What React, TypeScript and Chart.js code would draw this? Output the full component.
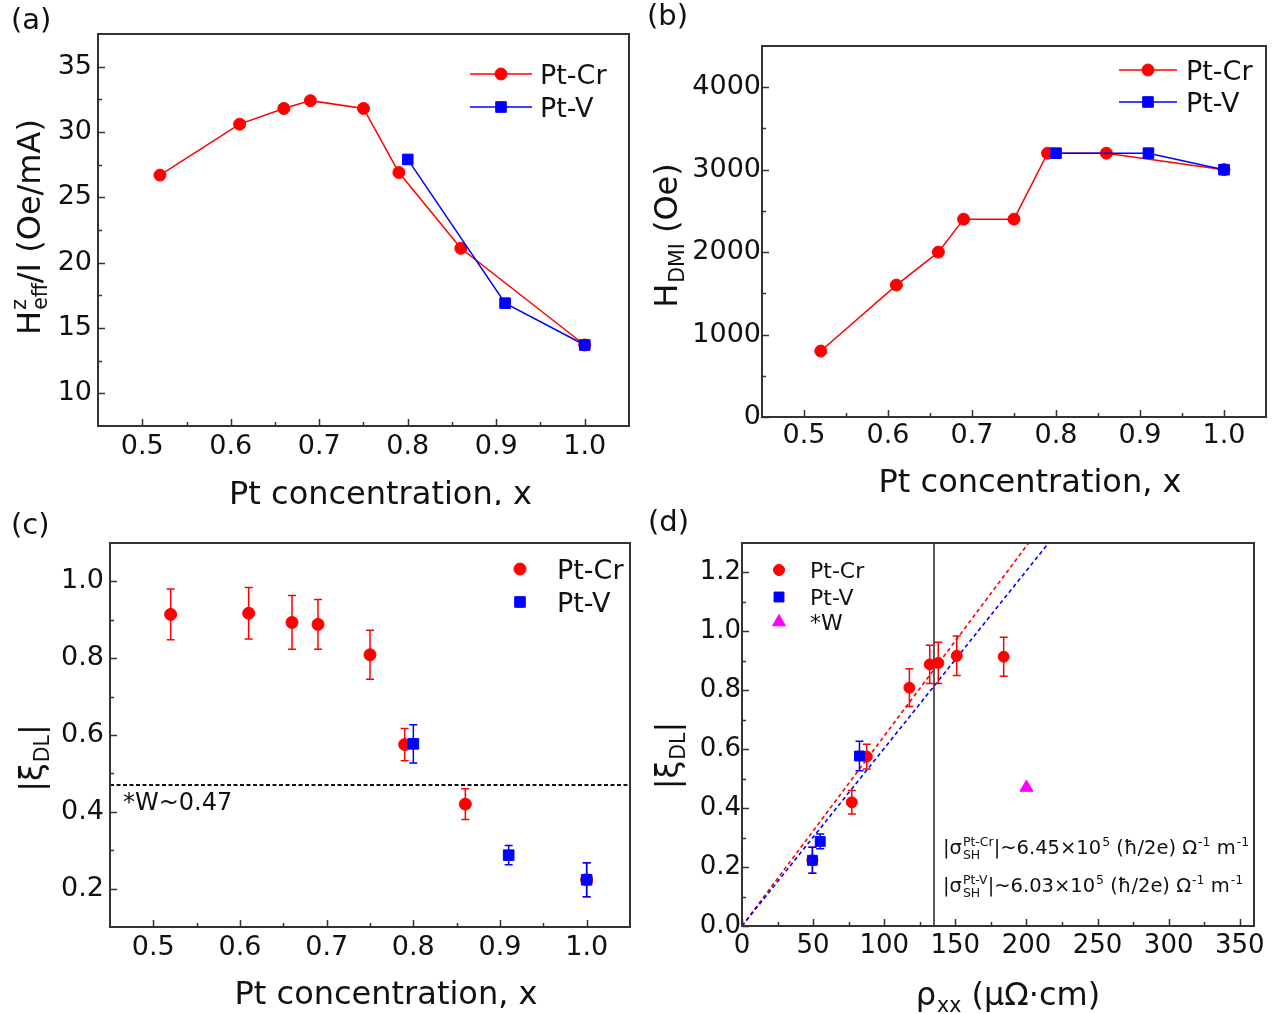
import React, { useEffect, useRef } from "react";
import { Chart, registerables } from "chart.js";
Chart.register(...registerables);

const FONT = '"DejaVu Sans", "Liberation Sans", sans-serif';
const TEXT = "#111111";
const AXIS = "#333333";
const RED = "#ff0000";
const BLUE = "#0000ff";
const MAGENTA = "#ff00ff";
const SCRIPT = 0.64;

// ---------------- data ----------------
const crConc = [0.52, 0.61, 0.66, 0.69, 0.75, 0.79, 0.86, 1.0];
const vConc = [0.8, 0.91, 1.0];

const heffCr = [26.7, 30.6, 31.8, 32.4, 31.8, 26.9, 21.1, 13.7];
const heffV = [27.9, 16.9, 13.7];

const hdmiCr = [800, 1600, 2000, 2400, 2400, 3200, 3200, 3000];
const hdmiV = [3200, 3200, 3000];

const xiCr = [0.914, 0.917, 0.893, 0.888, 0.809, 0.575, 0.42, 0.223];
const xiCrErr = [0.066, 0.067, 0.07, 0.065, 0.064, 0.042, 0.04, 0.044];
const xiV = [0.577, 0.287, 0.223];
const xiVErr = [0.05, 0.025, 0.044];

const rhoCr = [184, 151, 138, 132, 117.7, 87.7, 77.2, 49.5];
const rhoV = [82.6, 55, 49.5];
const wRho = [200];
const wXi = [0.47];

const wReference = 0.47;
const fitSlopeCr = 0.00645;
const fitSlopeV = 0.00603;
const rhoBoundary = 135;

const concTicks = [0.5, 0.6, 0.7, 0.8, 0.9, 1.0];
const concMinor = [0.55, 0.65, 0.75, 0.85, 0.95];
const heffTicks = [10, 15, 20, 25, 30, 35];
const heffMinor = [12.5, 17.5, 22.5, 27.5, 32.5];
const hdmiTicks = [0, 1000, 2000, 3000, 4000];
const hdmiMinor = [500, 1500, 2500, 3500];
const xiTicks = [0.2, 0.4, 0.6, 0.8, 1.0];
const xiMinor = [0.3, 0.5, 0.7, 0.9];
const xiDTicks = [0, 0.2, 0.4, 0.6, 0.8, 1.0, 1.2];
const xiDMinor = [0.1, 0.3, 0.5, 0.7, 0.9, 1.1];
const rhoTicks = [0, 50, 100, 150, 200, 250, 300, 350];
const rhoMinor = [25, 75, 125, 175, 225, 275, 325];

const pts = (xs: number[], ys: number[]) => xs.map((x, i) => ({ x, y: ys[i] }));

// ---------------- rich text ----------------
type Seg = { t: string; sup?: string; sub?: string };

function segsWidth(ctx: CanvasRenderingContext2D, segs: Seg[], size: number) {
  let w = 0;
  for (const s of segs) {
    ctx.font = `${size}px ${FONT}`;
    w += ctx.measureText(s.t).width;
    ctx.font = `${size * SCRIPT}px ${FONT}`;
    const a = s.sup ? ctx.measureText(s.sup).width + 1 : 0;
    const b = s.sub ? ctx.measureText(s.sub).width + 1 : 0;
    w += Math.max(a, b);
  }
  return w;
}

function drawSegs(
  ctx: CanvasRenderingContext2D,
  segs: Seg[],
  x: number,
  capY: number,
  size: number,
  align: "left" | "center"
) {
  const total = segsWidth(ctx, segs, size);
  let cx = align === "center" ? x - total / 2 : x;
  const base = capY + 0.3645 * size;
  ctx.textAlign = "left";
  ctx.textBaseline = "alphabetic";
  ctx.fillStyle = TEXT;
  for (const s of segs) {
    ctx.font = `${size}px ${FONT}`;
    ctx.fillText(s.t, cx, base);
    cx += ctx.measureText(s.t).width;
    ctx.font = `${size * SCRIPT}px ${FONT}`;
    let adv = 0;
    if (s.sup) {
      ctx.fillText(s.sup, cx + 1, base - 0.42 * size);
      adv = Math.max(adv, ctx.measureText(s.sup).width + 1);
    }
    if (s.sub) {
      ctx.fillText(s.sub, cx + 1, base + 0.24 * size);
      adv = Math.max(adv, ctx.measureText(s.sub).width + 1);
    }
    cx += adv;
  }
}

function drawMarker(
  ctx: CanvasRenderingContext2D,
  style: string,
  x: number,
  y: number,
  r: number,
  color: string
) {
  ctx.fillStyle = color;
  ctx.strokeStyle = color;
  ctx.lineWidth = 1;
  ctx.beginPath();
  if (style === "rect") {
    const s = Math.SQRT1_2 * r;
    ctx.rect(x - s, y - s, 2 * s, 2 * s);
  } else if (style === "triangle") {
    let a = 0;
    ctx.moveTo(x + Math.sin(a) * r, y - Math.cos(a) * r);
    a += (2 * Math.PI) / 3;
    ctx.lineTo(x + Math.sin(a) * r, y - Math.cos(a) * r);
    a += (2 * Math.PI) / 3;
    ctx.lineTo(x + Math.sin(a) * r, y - Math.cos(a) * r);
    ctx.closePath();
  } else {
    ctx.arc(x, y, r, 0, Math.PI * 2);
  }
  ctx.fill();
  ctx.stroke();
}

// ---------------- plugins ----------------
const errorBarPlugin = {
  id: "errorBars",
  beforeDatasetDraw(chart: any, args: any) {
    const ds: any = chart.data.datasets[args.index];
    if (!ds.errors) return;
    const ys = chart.scales.y;
    const ctx: CanvasRenderingContext2D = chart.ctx;
    ctx.save();
    ctx.strokeStyle = ds.borderColor;
    ctx.lineWidth = 1.5;
    args.meta.data.forEach((el: any, i: number) => {
      const e = ds.errors[i];
      if (!e) return;
      const v = ds.data[i].y;
      const x = el.x;
      const top = ys.getPixelForValue(v + e);
      const bot = ys.getPixelForValue(v - e);
      ctx.beginPath();
      ctx.moveTo(x, top);
      ctx.lineTo(x, bot);
      ctx.moveTo(x - 4, top);
      ctx.lineTo(x + 4, top);
      ctx.moveTo(x - 4, bot);
      ctx.lineTo(x + 4, bot);
      ctx.stroke();
    });
    ctx.restore();
  },
};

interface LegendCfg {
  x: (a: any) => number;
  rows: number[];
  line: boolean;
  lineHalf: number;
  textOff: number;
  size: number;
  entries: number[];
}

interface PanelCfg {
  canvas: { left: number; top: number; width: number; height: number };
  area: { l: number; t: number; r: number; b: number };
  x: { min: number; max: number; ticks: number[]; minor: number[]; fmt: (v: number) => string; size: number; pad: number };
  y: { min: number; max: number; ticks: number[]; minor: number[]; fmt: (v: number) => string; size: number; pad: number };
  datasets: any[];
  legend: LegendCfg;
  xTitle: { segs: Seg[]; dx: number; dy: number; size: number };
  yTitle: { segs: Seg[]; left: number; dy: number; size: number };
  label: { text: string; x: number; y: number };
  extra?: (chart: any, ctx: CanvasRenderingContext2D) => void;
}

function decoPlugin(cfg: PanelCfg) {
  return {
    id: "deco",
    afterDraw(chart: any) {
      const ctx: CanvasRenderingContext2D = chart.ctx;
      const a = chart.chartArea;
      const xs = chart.scales.x;
      const ys = chart.scales.y;
      ctx.save();
      // frame
      ctx.strokeStyle = AXIS;
      ctx.lineWidth = 2;
      ctx.strokeRect(a.left, a.top, a.right - a.left, a.bottom - a.top);
      // ticks (inward)
      ctx.lineWidth = 1.5;
      ctx.beginPath();
      const tx = (vals: number[], len: number) =>
        vals.forEach((v) => {
          const p = Math.round(xs.getPixelForValue(v)) + 0.5;
          ctx.moveTo(p, a.bottom);
          ctx.lineTo(p, a.bottom - len);
        });
      const ty = (vals: number[], len: number) =>
        vals.forEach((v) => {
          const p = Math.round(ys.getPixelForValue(v)) + 0.5;
          ctx.moveTo(a.left, p);
          ctx.lineTo(a.left + len, p);
        });
      tx(cfg.x.ticks, 7);
      tx(cfg.x.minor, 4);
      ty(cfg.y.ticks, 7);
      ty(cfg.y.minor, 4);
      ctx.stroke();

      // legend
      const lg = cfg.legend;
      const mx = lg.x(a);
      lg.entries.forEach((di, k) => {
        const ds: any = chart.data.datasets[di];
        const yy = a.top + lg.rows[k];
        if (lg.line) {
          ctx.strokeStyle = ds.borderColor;
          ctx.lineWidth = 1.5;
          ctx.beginPath();
          ctx.moveTo(mx - lg.lineHalf, yy);
          ctx.lineTo(mx + lg.lineHalf, yy);
          ctx.stroke();
        }
        drawMarker(ctx, ds.pointStyle || "circle", mx, yy, ds.pointRadius, ds.pointBackgroundColor);
        ctx.fillStyle = TEXT;
        ctx.font = `${lg.size}px ${FONT}`;
        ctx.textAlign = "left";
        ctx.textBaseline = "alphabetic";
        ctx.fillText(ds.label, mx + lg.textOff, yy + 0.3645 * lg.size);
      });

      // axis titles
      drawSegs(ctx, cfg.xTitle.segs, (a.left + a.right) / 2 + cfg.xTitle.dx, a.bottom + cfg.xTitle.dy, cfg.xTitle.size, "center");
      ctx.save();
      ctx.translate(a.left - cfg.yTitle.left, (a.top + a.bottom) / 2 + cfg.yTitle.dy);
      ctx.rotate(-Math.PI / 2);
      drawSegs(ctx, cfg.yTitle.segs, 0, 0, cfg.yTitle.size, "center");
      ctx.restore();

      // panel label
      ctx.fillStyle = TEXT;
      ctx.font = `29px ${FONT}`;
      ctx.textAlign = "left";
      ctx.textBaseline = "alphabetic";
      ctx.fillText(cfg.label.text, cfg.label.x, cfg.label.y);

      if (cfg.extra) cfg.extra(chart, ctx);
      ctx.restore();
    },
  };
}

function buildChart(canvas: HTMLCanvasElement, cfg: PanelCfg) {
  const { width, height } = cfg.canvas;
  const ar = cfg.area;
  const axis = (c: PanelCfg["x"], horizontal: boolean) => ({
    type: "linear",
    min: c.min,
    max: c.max,
    grid: { display: false, drawTicks: false },
    border: { display: false },
    ticks: {
      autoSkip: false,
      maxRotation: 0,
      padding: c.pad,
      color: TEXT,
      font: { family: FONT, size: c.size },
      callback: (v: any) => c.fmt(Number(v)),
    },
    afterBuildTicks: (s: any) => {
      s.ticks = c.ticks.map((v) => ({ value: v }));
    },
    afterFit: (s: any) => {
      if (horizontal) s.height = height - ar.b;
      else s.width = ar.l;
    },
  });
  return new Chart(canvas, {
    type: "scatter",
    data: { datasets: cfg.datasets },
    options: {
      animation: false,
      responsive: false,
      maintainAspectRatio: false,
      events: [],
      layout: { padding: { left: 0, top: ar.t, right: width - ar.r, bottom: 0 } },
      plugins: { legend: { display: false }, tooltip: { enabled: false } },
      scales: { x: axis(cfg.x, true) as any, y: axis(cfg.y, false) as any },
    },
    plugins: [errorBarPlugin, decoPlugin(cfg)],
  } as any);
}

// ---------------- dataset helpers ----------------
function seriesDs(label: string, data: any[], color: string, style: string, radius: number, order: number, showLine: boolean, extra: any = {}) {
  return {
    label,
    data,
    borderColor: color,
    backgroundColor: color,
    borderWidth: 1.5,
    pointStyle: style,
    pointRadius: radius,
    pointBackgroundColor: color,
    pointBorderColor: color,
    pointBorderWidth: 1,
    showLine,
    order,
    ...extra,
  };
}

function lineDs(data: any[], color: string, dash: number[], width: number, order: number) {
  return {
    label: "",
    data,
    borderColor: color,
    backgroundColor: color,
    borderWidth: width,
    borderDash: dash,
    pointRadius: 0,
    showLine: true,
    order,
  };
}

const f1 = (v: number) => v.toFixed(1);
const f0 = (v: number) => String(Math.round(v));

const concTitle: Seg[] = [{ t: "Pt concentration, x" }];
const xiTitle: Seg[] = [{ t: "|ξ", sub: "DL" }, { t: "|" }];

function panelA(): PanelCfg {
  return {
    canvas: { left: 0, top: 0, width: 640, height: 505 },
    area: { l: 98, t: 34, r: 629, b: 426 },
    x: { min: 0.45, max: 1.05, ticks: concTicks, minor: concMinor, fmt: f1, size: 27, pad: 5 },
    y: { min: 7.5, max: 37.5, ticks: heffTicks, minor: heffMinor, fmt: f0, size: 27, pad: 6 },
    datasets: [
      seriesDs("Pt-Cr", pts(crConc, heffCr), RED, "circle", 6, 2, true),
      seriesDs("Pt-V", pts(vConc, heffV), BLUE, "rect", 7.5, 1, true),
    ],
    legend: { x: (a) => a.right - 128, rows: [40, 73], line: true, lineHalf: 31, textOff: 39, size: 27, entries: [0, 1] },
    xTitle: { segs: concTitle, dx: 17, dy: 66, size: 32 },
    yTitle: { segs: [{ t: "H", sup: "z", sub: "eff" }, { t: "/I (Oe/mA)" }], left: 70, dy: -3, size: 32 },
    label: { text: "(a)", x: 11, y: 29 },
  };
}

function panelB(): PanelCfg {
  return {
    canvas: { left: 640, top: 0, width: 641, height: 505 },
    area: { l: 122, t: 46, r: 626, b: 417 },
    x: { min: 0.45, max: 1.05, ticks: concTicks, minor: concMinor, fmt: f1, size: 27, pad: 3 },
    y: { min: 0, max: 4500, ticks: hdmiTicks, minor: hdmiMinor, fmt: f0, size: 27, pad: 1 },
    datasets: [
      seriesDs("Pt-Cr", pts(crConc, hdmiCr), RED, "circle", 6, 2, true),
      seriesDs("Pt-V", pts(vConc, hdmiV), BLUE, "rect", 7.5, 1, true),
    ],
    legend: { x: (a) => a.right - 118, rows: [24, 56], line: true, lineHalf: 29, textOff: 38, size: 27, entries: [0, 1] },
    xTitle: { segs: concTitle, dx: 16, dy: 63, size: 32 },
    yTitle: { segs: [{ t: "H", sub: "DMI" }, { t: " (Oe)" }], left: 97, dy: 4, size: 32 },
    label: { text: "(b)", x: 7, y: 25 },
  };
}

function panelC(): PanelCfg {
  return {
    canvas: { left: 0, top: 505, width: 640, height: 509 },
    area: { l: 110, t: 38, r: 630, b: 422 },
    x: { min: 0.45, max: 1.05, ticks: concTicks, minor: concMinor, fmt: f1, size: 27, pad: 5 },
    y: { min: 0.1, max: 1.1, ticks: xiTicks, minor: xiMinor, fmt: f1, size: 27, pad: 6 },
    datasets: [
      seriesDs("Pt-Cr", pts(crConc, xiCr), RED, "circle", 6, 2, false, { errors: xiCrErr }),
      seriesDs("Pt-V", pts(vConc, xiV), BLUE, "rect", 7.5, 1, false, { errors: xiVErr }),
      lineDs([{ x: 0.45, y: wReference }, { x: 1.05, y: wReference }], "#111111", [4, 2.5], 2, 5),
    ],
    legend: { x: (a) => a.right - 110, rows: [26, 59], line: false, lineHalf: 0, textOff: 37, size: 27, entries: [0, 1] },
    xTitle: { segs: concTitle, dx: 16, dy: 65, size: 32 },
    yTitle: { segs: xiTitle, left: 80, dy: 23, size: 32 },
    label: { text: "(c)", x: 11, y: 29 },
    extra: (chart, ctx) => {
      const a = chart.chartArea;
      const yy = chart.scales.y.getPixelForValue(wReference) + 16;
      drawSegs(ctx, [{ t: "*W~" + wReference.toFixed(2) }], a.left + 13, yy, 24, "left");
    },
  };
}

function panelD(): PanelCfg {
  const yMax = 1.3;
  return {
    canvas: { left: 640, top: 505, width: 641, height: 509 },
    area: { l: 102, t: 38, r: 614, b: 421 },
    x: { min: 0, max: 360, ticks: rhoTicks, minor: rhoMinor, fmt: f0, size: 26, pad: 5 },
    y: { min: 0, max: yMax, ticks: xiDTicks, minor: xiDMinor, fmt: f1, size: 26, pad: 1 },
    datasets: [
      seriesDs("Pt-Cr", pts(rhoCr, xiCr), RED, "circle", 5.5, 2, false, { errors: xiCrErr }),
      seriesDs("Pt-V", pts(rhoV, xiV), BLUE, "rect", 7, 1, false, { errors: xiVErr }),
      seriesDs("*W", pts(wRho, wXi), MAGENTA, "triangle", 7.5, 0, false),
      lineDs([{ x: 0, y: 0 }, { x: yMax / fitSlopeCr, y: yMax }], RED, [4, 3], 1.6, 10),
      lineDs([{ x: 0, y: 0 }, { x: yMax / fitSlopeV, y: yMax }], BLUE, [4, 3], 1.6, 9),
      lineDs([{ x: rhoBoundary, y: 0 }, { x: rhoBoundary, y: yMax }], AXIS, [], 1.6, 8),
    ],
    legend: { x: (a) => a.left + 37, rows: [27, 54, 79], line: false, lineHalf: 0, textOff: 31, size: 22, entries: [0, 1, 2] },
    xTitle: { segs: [{ t: "ρ", sub: "xx" }, { t: " (μΩ·cm)" }], dx: 10, dy: 67, size: 32 },
    yTitle: { segs: xiTitle, left: 76, dy: 21, size: 32 },
    label: { text: "(d)", x: 8, y: 26 },
    extra: (chart, ctx) => {
      const a = chart.chartArea;
      const s = 19.5;
      drawSegs(
        ctx,
        [
          { t: "|σ", sup: "Pt-Cr", sub: "SH" },
          { t: "|~" + (fitSlopeCr * 1000).toFixed(2) + "×10", sup: "5" },
          { t: " (ħ/2e) Ω", sup: "-1" },
          { t: " m", sup: "-1" },
        ],
        a.left + 201,
        a.bottom - 79,
        s,
        "left"
      );
      drawSegs(
        ctx,
        [
          { t: "|σ", sup: "Pt-V", sub: "SH" },
          { t: "|~" + (fitSlopeV * 1000).toFixed(2) + "×10", sup: "5" },
          { t: " (ħ/2e) Ω", sup: "-1" },
          { t: " m", sup: "-1" },
        ],
        a.left + 201,
        a.bottom - 41,
        s,
        "left"
      );
    },
  };
}

export default function App() {
  const refs = [useRef<HTMLCanvasElement>(null), useRef<HTMLCanvasElement>(null), useRef<HTMLCanvasElement>(null), useRef<HTMLCanvasElement>(null)];
  const cfgs = [panelA(), panelB(), panelC(), panelD()];

  useEffect(() => {
    const charts: Chart[] = [];
    cfgs.forEach((cfg, i) => {
      const c = refs[i].current;
      if (c) charts.push(buildChart(c, cfg));
    });
    return () => charts.forEach((ch) => ch.destroy());
  }, []);

  return (
    <div style={{ position: "absolute", left: 0, top: 0, width: 1281, height: 1014, background: "#ffffff", overflow: "hidden" }}>
      {cfgs.map((cfg, i) => (
        <canvas
          key={i}
          ref={refs[i]}
          width={cfg.canvas.width}
          height={cfg.canvas.height}
          style={{
            position: "absolute",
            left: cfg.canvas.left,
            top: cfg.canvas.top,
            width: cfg.canvas.width,
            height: cfg.canvas.height,
          }}
        />
      ))}
    </div>
  );
}
